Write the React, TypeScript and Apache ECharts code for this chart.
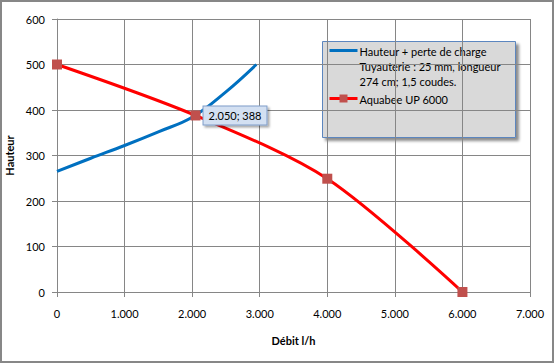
import React, { useEffect, useRef } from "react";
import * as echarts from "echarts";

const blueName = "Hauteur + perte de charge\nTuyauterie : 25 mm, longueur\n274 cm; 1,5 coudes.";
const redName = "Aquabee UP 6000";
const blueFlow = [0, 500, 1000, 1500, 2000, 2500, 2950];
const blueHead = [265, 294, 322, 352, 384, 440, 500];
const redFlow = [0, 2050, 4000, 6000];
const redHead = [500, 388, 249, 0];
const labelledIndex = 1;
const xTicks = [0, 1000, 2000, 3000, 4000, 5000, 6000, 7000];
const yTicks = [0, 100, 200, 300, 400, 500, 600];

const FONT = "Lato";

function fmtThousands(v: number): string {
  return String(Math.round(v)).replace(/\B(?=(\d{3})+(?!\d))/g, ".");
}

export default function App() {
  const ref = useRef<HTMLDivElement>(null);
  useEffect(() => {
    if (!ref.current) return;
    const chart = echarts.init(ref.current, null, { renderer: "svg" });
    const blueData = blueFlow.map((x, i) => [x, blueHead[i]]);
    const redData = redFlow.map((x, i) => {
      const item: any = { value: [x, redHead[i]] };
      if (i === labelledIndex) {
        item.label = {
          show: true,
          position: "right",
          distance: 3,
          formatter: `${fmtThousands(x)}; ${redHead[i]}`,
          fontFamily: FONT,
          fontSize: 11,
          color: "#000",
          backgroundColor: "#D3E0F2",
          borderColor: "#7F9DC9",
          borderWidth: 1,
          padding: [4, 5, 3, 5],
          shadowColor: "rgba(0,0,0,0.35)",
          shadowBlur: 2,
          shadowOffsetX: 2,
          shadowOffsetY: 2,
        };
      }
      return item;
    });
    chart.setOption({
      animation: false,
      backgroundColor: "#fff",
      grid: { left: 57, right: 25, top: 19, bottom: 72, outerBoundsMode: "none", containLabel: false },
      xAxis: {
        type: "value",
        min: xTicks[0],
        max: xTicks[xTicks.length - 1],
        interval: 1000,
        name: "Débit l/h",
        nameLocation: "middle",
        nameGap: 43,
        nameTextStyle: { fontFamily: FONT, fontSize: 11, fontWeight: "bold", color: "#000" },
        axisLine: { show: true, lineStyle: { color: "#868686", width: 1 } },
        axisTick: { show: true, length: 5, lineStyle: { color: "#868686" } },
        axisLabel: { margin: 16, fontFamily: FONT, fontSize: 11, color: "#000", formatter: (v: number) => fmtThousands(v) },
        splitLine: { show: true, lineStyle: { color: "#868686", width: 1 } },
      },
      yAxis: {
        type: "value",
        min: yTicks[0],
        max: yTicks[yTicks.length - 1],
        interval: 100,
        name: "Hauteur",
        nameLocation: "middle",
        nameGap: 35,
        nameRotate: 90,
        nameTextStyle: { fontFamily: FONT, fontSize: 11, fontWeight: "bold", color: "#000" },
        axisLine: { show: true, lineStyle: { color: "#868686", width: 1 } },
        axisTick: { show: true, length: 5, lineStyle: { color: "#868686" } },
        axisLabel: { margin: 12, fontFamily: FONT, fontSize: 11, color: "#000" },
        splitLine: { show: true, lineStyle: { color: "#868686", width: 1 } },
      },
      series: [
        {
          name: blueName,
          type: "line",
          data: blueData,
          smooth: 0.4,
          symbol: "none",
          lineStyle: { color: "#0070C0", width: 3 },
          itemStyle: { color: "#0070C0" },
          z: 2,
        },
        {
          name: redName,
          type: "line",
          data: redData,
          smooth: 0.3,
          symbol: "rect",
          symbolSize: 10,
          lineStyle: { color: "#FF0000", width: 3 },
          itemStyle: { color: "#C0504D" },
          z: 3,
        },
      ],
      graphic: [
        {
          type: "rect",
          shape: { x: 1, y: 1, width: 552, height: 361 },
          style: { fill: "none", stroke: "#878787", lineWidth: 2 },
          silent: true,
          z: 100,
        },
        {
          type: "group",
          left: 322,
          top: 41,
          z: 100,
          children: [
            {
              type: "rect",
              shape: { x: 0, y: 0, width: 193, height: 96 },
              style: {
                fill: "#D9D9D9",
                stroke: "#5B86BF",
                lineWidth: 1,
                shadowColor: "rgba(0,0,0,0.45)",
                shadowBlur: 3,
                shadowOffsetX: 3,
                shadowOffsetY: 3,
              },
            },
            {
              type: "line",
              shape: { x1: 7, y1: 9, x2: 35, y2: 9 },
              style: { stroke: "#0070C0", lineWidth: 3 },
            },
            {
              type: "text",
              x: 37,
              y: 2,
              style: { text: blueName, font: `11px ${FONT}`, fontFamily: FONT, fontSize: 11, lineHeight: 15, fill: "#000" },
            },
            {
              type: "line",
              shape: { x1: 7, y1: 57, x2: 35, y2: 57 },
              style: { stroke: "#FF0000", lineWidth: 3 },
            },
            {
              type: "rect",
              shape: { x: 17, y: 53, width: 8, height: 8 },
              style: { fill: "#C0504D" },
            },
            {
              type: "text",
              x: 37,
              y: 50,
              style: { text: redName, font: `11px ${FONT}`, fontFamily: FONT, fontSize: 11, lineHeight: 15, fill: "#000" },
            },
          ],
        },
      ],
    });
    return () => chart.dispose();
  }, []);
  return (
    <div
      ref={ref}
      style={{ position: "fixed", left: 0, top: 0, width: 555, height: 364 }}
    />
  );
}
